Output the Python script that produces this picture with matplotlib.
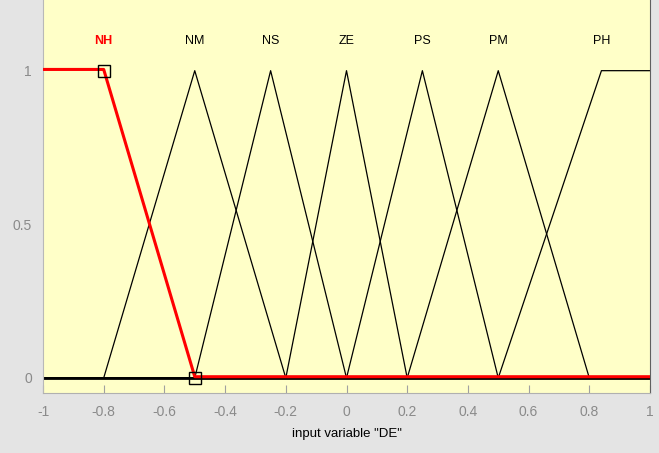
import numpy as np
import matplotlib.pyplot as plt

# membership functions of input variable "DE"
names = ['NH', 'NM', 'NS', 'ZE', 'PS', 'PM', 'PH']
params = [
    [-1.0, -1.0, -0.8, -0.5],   # trapmf
    [-0.8, -0.5, -0.2],         # trimf
    [-0.5, -0.25, 0.0],
    [-0.2, 0.0, 0.2],
    [0.0, 0.25, 0.5],
    [0.2, 0.5, 0.8],
    [0.5, 0.84, 1.0, 1.0],      # trapmf
]
selected = 'NH'
xticks = [-1, -0.8, -0.6, -0.4, -0.2, 0, 0.2, 0.4, 0.6, 0.8, 1]
yticks = [0, 0.5, 1]
xlab = ['-1', '-0.8', '-0.6', '-0.4', '-0.2', '0', '0.2', '0.4', '0.6', '0.8', '1']
ylab = ['0', '0.5', '1']


def mf_points(p):
    if len(p) == 3:
        xs = [-1, p[0], p[1], p[2], 1]
        ys = [0, 0, 1, 0, 0]
    else:
        xs = [-1, p[0], p[1], p[2], p[3], 1]
        ys = [0, 0, 1, 1, 0, 0]
    # drop vertical jumps at the ends of the range
    if xs[1] <= -1:
        xs, ys = xs[2:], ys[2:]
    if xs[-2] >= 1:
        xs, ys = xs[:-2], ys[:-2]
    return np.array(xs), np.array(ys)


fig = plt.figure(figsize=(6.59, 4.53), dpi=100, facecolor='#e4e4e4')
ax = fig.add_axes([43 / 659, 60 / 453, 607 / 659, 393 / 453])
ax.set_facecolor('#ffffc8')

lab_font = 'Liberation Sans'

for name, p in zip(names, params):
    xs, ys = mf_points(p)
    if name == selected:
        continue
    ax.plot(xs, ys, color='black', lw=0.9, zorder=2)
    peak = xs[ys == 1][0]
    ax.text(peak, 1.095, name, ha='center', va='center', fontsize=9,
            color='black', family=lab_font)

# zero line where every MF is flat
ax.plot([-1, 1], [0, 0], color='black', lw=2.0, zorder=2)

# selected MF in red, with its handle markers
i = names.index(selected)
xs, ys = mf_points(params[i])
ax.plot(xs, ys + 0.004, color='red', lw=2.2, zorder=3)
peak = xs[ys == 1][-1]
ax.text(peak, 1.095, selected, ha='center', va='center', fontsize=9,
        color='red', fontweight='bold', family=lab_font)
ax.plot([params[i][2], params[i][3]], [1, 0], ls='none', marker='s', ms=8,
        mfc='none', mec='black', mew=1.0, zorder=4)

ax.set_xlim(-1, 1)
ax.set_ylim(-0.049, 1.23)
ax.set_xticks(xticks)
ax.set_xticklabels(xlab)
ax.set_yticks(yticks)
ax.set_yticklabels(ylab)
ax.tick_params(axis='x', direction='in', length=6, color='#a0a0a0',
               labelcolor='#8a8a8a', labelsize=10, pad=9)
ax.tick_params(axis='y', length=0, labelcolor='#8a8a8a', labelsize=10, pad=8)
for lab in ax.get_xticklabels() + ax.get_yticklabels():
    lab.set_family(lab_font)

ax.spines['left'].set_color('#b8b8b8')
ax.spines['bottom'].set_color('#b0b0b0')
ax.spines['right'].set_color('#606060')
ax.spines['top'].set_visible(False)

ax.set_xlabel('input variable "DE"', fontsize=9.5, family=lab_font,
              labelpad=6)

fig.savefig('out.png', dpi=100, facecolor=fig.get_facecolor())
